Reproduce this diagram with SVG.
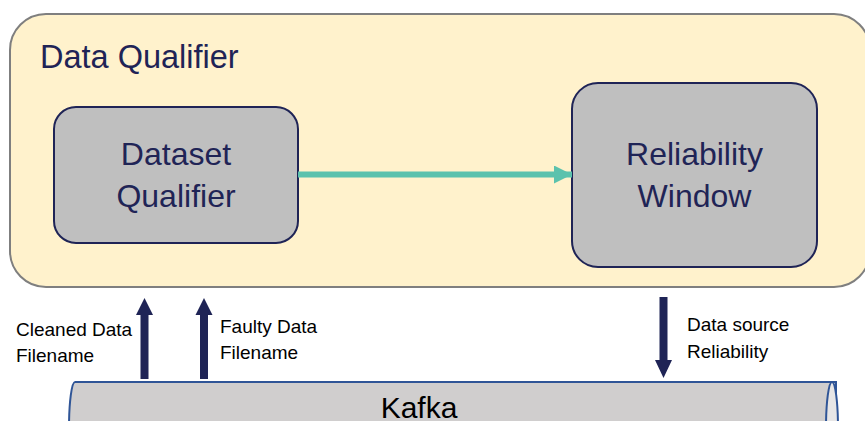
<svg xmlns="http://www.w3.org/2000/svg" width="865" height="421" viewBox="0 0 865 421">
<defs>
<style>
.node{fill:#bfbfbf;stroke:#1f2456;stroke-width:2}
.title{font-family:"Liberation Sans",Arial,sans-serif;fill:#1f2456}
.lbl{font-family:"Liberation Sans",Arial,sans-serif;font-size:19px;fill:#000}
.nav{fill:#1f2456}
</style>
<marker id="teal" viewBox="0 0 18 18" refX="18" refY="9" markerWidth="18" markerHeight="18" markerUnits="userSpaceOnUse" orient="auto">
<path d="M0,0 L18,9 L0,18 Z" fill="#5bc2ad"/>
</marker>
</defs>
<rect width="865" height="421" fill="#ffffff"/>
<g id="data-qualifier">
<rect x="10" y="14" width="860" height="273" rx="36" fill="#fff2cc" stroke="#7f7f7f" stroke-width="2"/>
<text class="title" x="40" y="68" font-size="32.5">Data Qualifier</text>
</g>
<g id="dataset-qualifier">
<rect class="node" x="54" y="107" width="244" height="136" rx="22"/>
<text class="title" x="176" y="165" font-size="32" text-anchor="middle">Dataset</text>
<text class="title" x="176" y="207" font-size="32" text-anchor="middle">Qualifier</text>
</g>
<g id="reliability-window">
<rect class="node" x="572" y="83" width="245" height="184" rx="26"/>
<text class="title" x="694.5" y="165" font-size="32" text-anchor="middle">Reliability</text>
<text class="title" x="694.5" y="207" font-size="32" text-anchor="middle">Window</text>
</g>
<g id="kafka">
<path d="M836,382 L75,382 A6,46 0 0 0 75,474 L836,474 Z" fill="#d0cece" stroke="#2f5597" stroke-width="2"/>
<ellipse cx="832" cy="428" rx="6" ry="46" fill="#e7e6e6" stroke="#2f5597" stroke-width="2"/>
<text x="419" y="418" font-family="'Liberation Sans',Arial,sans-serif" font-size="30" text-anchor="middle" fill="#000">Kafka</text>
</g>
<g id="connectors">
<line x1="298" y1="174.5" x2="572" y2="174.5" stroke="#5bc2ad" stroke-width="6" marker-end="url(#teal)"/>
<path class="nav" d="M140.5,379 L140.5,315 L136,315 L144.5,298 L153,315 L148.5,315 L148.5,379 Z"/>
<path class="nav" d="M200,379 L200,315 L195.5,315 L204,298 L212.5,315 L208,315 L208,379 Z"/>
<path class="nav" d="M659.5,297 L667.5,297 L667.5,360 L672,360 L663.5,378 L655,360 L659.5,360 Z"/>
<text class="lbl" x="16" y="336">Cleaned Data</text>
<text class="lbl" x="16" y="362">Filename</text>
<text class="lbl" x="220" y="333">Faulty Data</text>
<text class="lbl" x="220" y="359">Filename</text>
<text class="lbl" x="687" y="331">Data source</text>
<text class="lbl" x="687" y="358">Reliability</text>
</g>
</svg>
